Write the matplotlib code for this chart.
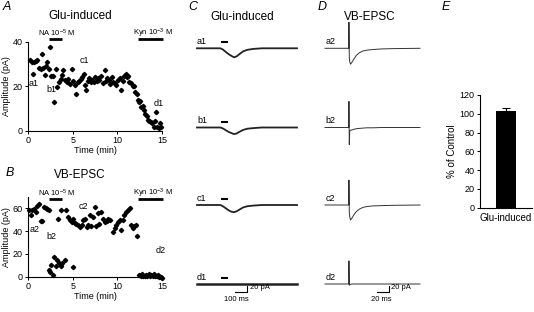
import matplotlib
matplotlib.use("Agg")
import matplotlib.pyplot as plt

plt.rcParams["font.family"] = ["Liberation Sans", "DejaVu Sans"]
plt.rcParams["mathtext.fontset"] = "custom"
plt.rcParams["mathtext.rm"] = "Liberation Sans"
plt.rcParams["mathtext.it"] = "Liberation Sans:italic"

# A: Glu-induced current amplitude (pA) vs time (min)
glu_t = [0.22, 0.48, 0.6, 0.7, 0.9, 1.04, 1.26, 1.4, 1.6, 1.7, 1.9, 2.0, 2.15, 2.3,
         2.45, 2.6, 2.8, 2.93, 3.1, 3.27, 3.45, 3.64, 3.82, 3.97, 4.15, 4.35, 4.5,
         4.7, 4.9, 5.05, 5.24, 5.4, 5.57, 5.72, 5.9, 6.1, 6.24, 6.39, 6.54, 6.7,
         6.83, 7.0, 7.17, 7.35, 7.5, 7.69, 7.87, 8.0, 8.2, 8.39, 8.58, 8.69, 8.87,
         9.06, 9.2, 9.4, 9.54, 9.73, 9.88, 10.06, 10.25, 10.43, 10.62, 10.77, 10.92,
         11.07, 11.2, 11.36, 11.55, 11.73, 11.92, 12.03, 12.18, 12.3, 12.4, 12.55,
         12.7, 12.85, 13.0, 13.15, 13.3, 13.44, 13.6, 13.74, 13.9, 14.07, 14.2,
         14.37, 14.48, 14.63, 14.78, 14.93]
glu_amp = [31.7, 31.1, 25.5, 31.1, 31.4, 31.7, 28.4, 27.7, 34.4, 28.0, 25.0, 29.2,
           30.7, 27.7, 37.6, 24.7, 24.7, 12.9, 27.7, 19.6, 21.8, 23.3, 25.2, 27.3,
           22.8, 21.8, 23.3, 21.0, 27.7, 22.5, 20.7, 16.6, 21.8, 22.5, 23.3, 24.0,
           25.5, 20.7, 18.4, 22.5, 23.7, 21.8, 22.8, 21.8, 24.0, 22.5, 23.7, 22.8,
           24.7, 21.3, 27.3, 22.5, 23.5, 22.8, 21.0, 24.0, 21.8, 21.3, 20.7, 22.8,
           23.7, 18.4, 22.5, 24.7, 25.5, 24.0, 24.7, 21.8, 21.3, 20.3, 20.3, 17.3,
           16.3, 13.6, 12.9, 13.3, 10.7, 11.0, 9.2, 7.7, 6.5, 5.0, 4.4, 4.0, 3.3,
           1.8, 4.4, 8.4, 1.8, 1.0, 3.3, 1.8]

# B: VB-EPSC amplitude (pA) vs time (min)
vb_t = [0.15, 0.3, 0.5, 0.7, 0.85, 1.0, 1.2, 1.4, 1.6, 1.8, 2.0, 2.15, 2.3,
        2.3, 2.45, 2.6, 2.8, 2.95, 3.1, 3.2, 3.5, 3.7, 3.85, 4.1, 5.0,
        3.4, 3.7, 4.3, 4.5, 4.7, 4.9, 5.05, 5.25, 5.4, 5.6, 5.8, 6.0, 6.2, 6.4,
        6.55, 6.7, 6.9, 7.1, 7.3, 7.5, 7.65, 7.85, 8.0, 8.2, 8.4, 8.6, 8.8, 8.95,
        9.15, 9.5, 9.7, 9.9, 10.1, 10.25, 10.45, 10.6, 10.8, 11.0, 11.2, 11.4,
        11.55, 11.75, 11.9, 12.1, 12.25,
        12.45, 12.6, 12.75, 12.9, 13.05, 13.2, 13.35, 13.5, 13.65, 13.8, 13.95,
        14.1, 14.25, 14.4, 14.55, 14.7, 14.85, 15.0]
vb_amp = [58.5, 54, 58.5, 59, 57, 62, 64, 49, 49, 61, 60, 59, 58.5,
          6, 4.4, 10, 1.5, 17.5, 9.4, 14.6, 11.7, 9.4, 11.7, 15, 8.2,
          50.6, 58.5, 58.5, 52.6, 49.7, 48, 51, 47, 46, 45, 44, 45, 50, 51,
          44, 45, 54, 44.4, 52.6, 61, 44.4, 55.6, 46, 57, 51, 48, 49, 51,
          49.7, 39.5, 42.4, 45, 48, 49.7, 41, 49.7, 54, 57, 58.5, 60,
          45, 43, 44.4, 45, 35.7,
          1.5, 0.5, 2, 1, 0.3, 1.5, 0.8, 2, 0.5, 1.2, 0.3,
          2.5, 1, 0.5, 1.5, 0, -0.5, -1.5]

# C: Glu-induced current traces (time in ms, current in pA)
glu_trace_t = [0, 195, 215, 240, 265, 290, 308, 330, 355, 385, 420, 470, 540, 833]
a1_i = [0, 0, -4, -12, -20, -26, -30, -27, -19, -10, -5, -2, 0, 0]
b1_i = [0, 0, -3, -9, -15, -19, -22, -20, -14, -8, -4, -2, 0, 0]
c1_i = [0, 0, -4, -11, -18, -23, -24, -21, -15, -8, -4, -2, 0, 0]
d1_i = [0, 0, 0, 0, 0, 0, 0, 0, 0, 0, 0, 0, 0, 0]
glu_pulse = (200, 258)

# D: VB-EPSC traces (time in ms, current in pA)
epsc_t = [0, 39.6, 39.8, 40.4, 41.2, 42.5, 45, 48, 52, 57, 63, 70, 80, 95, 115, 158]
a2_i = [0, 0, 87, -30, -45, -53, -46, -36, -24, -15, -9, -6, -4, -2, -1, 0]
b2_i = [0, 0, 87, -57, -10, -9, -8, -6, -4, -3, -2, -1, -1, 0, 0, 0]
c2_i = [0, 0, 83, -25, -40, -50, -43, -33, -22, -14, -8, -5, -3, -2, -1, 0]
d2_i = [0, 0, 77, -4, -2, -1, 0, 0, 0, 0, 0, 0, 0, 0, 0, 0]

# E: summary bar
e_cat = ["Glu-induced"]
e_val = [103]
e_err = [3]

W, H = 534, 312
fig = plt.figure(figsize=(W / 100, H / 100), dpi=100)


def px_axes(x0, y0, x1, y1):
    return fig.add_axes([x0 / W, 1 - y1 / H, (x1 - x0) / W, (y1 - y0) / H])


def ftext(x, y, s, **kw):
    fig.text(x / W, 1 - y / H, s, **kw)


def style_axes(ax):
    for side in ["top", "right"]:
        ax.spines[side].set_visible(False)
    for side in ["left", "bottom"]:
        ax.spines[side].set_linewidth(0.8)
    ax.tick_params(direction="out", length=2.5, width=0.7, labelsize=6.5, pad=1.5)


# panel letters and titles
for x, y, s in [(7, 7, "A"), (10, 173, "B"), (193, 7, "C"), (322, 7, "D"), (446, 7, "E")]:
    ftext(x, y, s, fontsize=9, style="italic", ha="center", va="center")
ftext(80, 16, "Glu-induced", fontsize=8.5, ha="center", va="center")
ftext(80, 175, "VB-EPSC", fontsize=8.5, ha="center", va="center")
ftext(242, 17, "Glu-induced", fontsize=8.5, ha="center", va="center")
ftext(370, 17, "VB-EPSC", fontsize=8.5, ha="center", va="center")


def time_course(ax, t, amp, ymax, yticks, bar_y, txt_y, labels):
    ax.plot(t, amp, "D", ms=2.2, color="k", clip_on=False)
    ax.set_xlim(0, 15)
    ax.set_ylim(0, ymax)
    ax.set_xticks([0, 5, 10, 15])
    ax.set_yticks(yticks)
    style_axes(ax)
    ax.set_xlabel("Time (min)", fontsize=6.5)
    ax.set_ylabel("Amplitude (pA)", fontsize=6.5)
    ax.plot([2.3, 3.85], [bar_y, bar_y], color="k", lw=2, clip_on=False,
            solid_capstyle="butt")
    ax.plot([12.3, 15.1], [bar_y, bar_y], color="k", lw=2, clip_on=False,
            solid_capstyle="butt")
    ax.text(3.2, txt_y, "NA 10$^{-5}$ M", fontsize=5.5, ha="center", va="center")
    ax.text(14.0, txt_y, "Kyn 10$^{-3}$ M", fontsize=5.5, ha="center", va="center")
    for lx, ly, s in labels:
        ax.text(lx, ly, s, fontsize=6.5, ha="center", va="center")


axA = px_axes(28, 41.7, 162, 130.7)
time_course(axA, glu_t, glu_amp, 40, [0, 20, 40], 41.3, 43.6,
            [(0.6, 21, "a1"), (2.65, 18.4, "b1"), (6.3, 31.4, "c1"), (14.6, 12.4, "d1")])
axA.yaxis.set_label_coords(-0.125, 0.5)
axA.xaxis.set_label_coords(0.5, -0.17)

axB = px_axes(28, 196.9, 162, 276.7)
time_course(axB, vb_t, vb_amp, 70, [0, 20, 40, 60], 68.4, 73.5,
            [(0.78, 41.5, "a2"), (2.6, 35.7, "b2"), (6.2, 61.4, "c2"), (14.8, 23.4, "d2")])
axB.yaxis.set_label_coords(-0.125, 0.5)
axB.xaxis.set_label_coords(0.5, -0.19)

# traces: 20 pA = 6 px
PA = 20 / 6


def trace_axes(x0, x1, ybase, tmax):
    ax = px_axes(x0, ybase - 30, x1, ybase + 20)
    ax.set_xlim(0, tmax)
    ax.set_ylim(-20 * PA, 30 * PA)
    ax.axis("off")
    return ax


rows = [48.3, 127.5, 205, 284]
c_traces = [a1_i, b1_i, c1_i, d1_i]
d_traces = [a2_i, b2_i, c2_i, d2_i]
c_names = ["a1", "b1", "c1", "d1"]
d_names = ["a2", "b2", "c2", "d2"]

c_axes = []
for yb, cur, name in zip(rows, c_traces, c_names):
    ax = trace_axes(197, 297, yb, 833)
    ax.plot(glu_trace_t, cur, color="#222222", lw=1.8 if name == "d1" else 1.3,
            clip_on=False)
    ax.plot(glu_pulse, [20, 20], color="k", lw=1.5, solid_capstyle="butt")
    ax.text(0, 22, name, fontsize=6.5, ha="left", va="center")
    c_axes.append(ax)

d_axes = []
for yb, cur, name in zip(rows, d_traces, d_names):
    ax = trace_axes(325, 420, yb, 158)
    ax.plot(epsc_t, cur, color="#333333", lw=0.7, clip_on=False)
    ax.text(1, 22, name, fontsize=6.5, ha="left", va="center")
    d_axes.append(ax)

# scale bars: 100 ms / 20 ms horizontal, 20 pA vertical
ax = c_axes[-1]
ax.plot([318, 418, 418], [-25, -25, -5], color="k", lw=0.8, clip_on=False)
ax.text(445, -13, "20 pA", fontsize=5.5, ha="left", va="center")
ax.text(330, -53, "100 ms", fontsize=5.5, ha="center", va="center")

ax = d_axes[-1]
ax.plot([86, 106, 106], [-25, -25, -5], color="k", lw=0.8, clip_on=False)
ax.text(110, -13, "20 pA", fontsize=5.5, ha="left", va="center")
ax.text(94, -53, "20 ms", fontsize=5.5, ha="center", va="center")

# E
axE = px_axes(480, 95, 532, 207.7)
axE.bar([0], e_val, width=0.4, color="k")
axE.errorbar([0], e_val, yerr=[[0], e_err], fmt="none", ecolor="k", elinewidth=0.8,
             capsize=3, capthick=0.8)
axE.set_xlim(-0.5, 0.5)
axE.set_ylim(0, 120)
axE.set_yticks(range(0, 121, 20))
axE.set_xticks([0])
axE.set_xticklabels(e_cat)
style_axes(axE)
axE.tick_params(axis="x", length=0, labelsize=7, pad=4)
axE.set_ylabel("% of Control", fontsize=7, labelpad=2)

fig.savefig("out.png", dpi=100)
